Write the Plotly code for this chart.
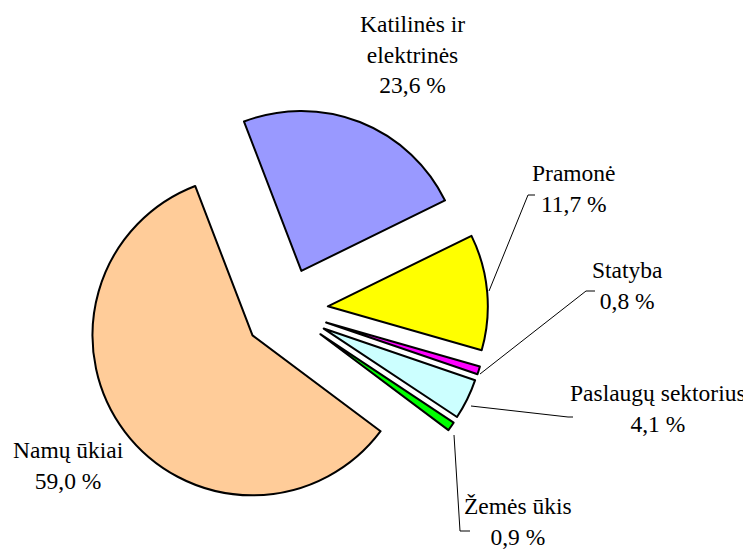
import plotly.graph_objects as go

# ---- data ----
labels = ["Katilinės ir elektrinės", "Pramonė", "Statyba", "Paslaugų sektorius", "Žemės ūkis", "Namų ūkiai"]
label_text = ["Katilinės ir<br>elektrinės", "Pramonė", "Statyba", "Paslaugų sektorius", "Žemės ūkis", "Namų ūkiai"]
values = [23.6, 11.7, 0.8, 4.1, 0.9, 59.0]
colors = ["#9999FF", "#FFFF00", "#FF00FF", "#CCFFFF", "#00FF00", "#FFCC99"]

W, H = 751, 552
CX, CY = 278, 302
R = 160
PULL = 0.2625
BOX = 2 * R * (1 + PULL)

def px(x):
    return x / W

def py(y):
    return 1 - y / H

fig = go.Figure(go.Pie(
    labels=labels,
    values=values,
    sort=False,
    direction="clockwise",
    rotation=-21,
    pull=[PULL] * len(values),
    marker=dict(colors=colors, line=dict(color="black", width=2)),
    textinfo="none",
    hoverinfo="label+percent",
    domain=dict(x=[px(CX - BOX / 2), px(CX + BOX / 2)],
                y=[py(CY + BOX / 2), py(CY - BOX / 2)]),
    showlegend=False,
))

# label positions (text block centres, in pixels) and leader lines
label_pos = [(404, 46), (566, 180), (619, 277), (650, 400), (510, 513), (60, 457)]
leaders = [
    None,
    [(527, 187), (520, 187), (481, 283)],
    [(587, 283), (578, 283), (472, 366)],
    [(565, 409), (560, 409), (463, 398)],
    [(462, 523), (452, 523), (446, 427)],
    None,
]

annotations = []
for lt, v, (x, y) in zip(label_text, values, label_pos):
    txt = f"{lt}<br>{v:.1f} %".replace(".", ",")
    annotations.append(dict(
        x=px(x), y=py(y), xref="paper", yref="paper",
        xanchor="center", yanchor="middle", showarrow=False,
        text=txt, align="center",
        font=dict(family="Liberation Serif", size=23.5, color="black"),
    ))

shapes = []
for pts in leaders:
    if not pts:
        continue
    path = "M " + " L ".join(f"{px(x)},{py(y)}" for x, y in pts)
    shapes.append(dict(type="path", path=path, xref="paper", yref="paper",
                       line=dict(color="black", width=1)))

fig.update_layout(
    width=W, height=H,
    margin=dict(l=0, r=0, t=0, b=0),
    paper_bgcolor="white",
    plot_bgcolor="white",
    annotations=annotations,
    shapes=shapes,
)

fig.write_html("out.html")
